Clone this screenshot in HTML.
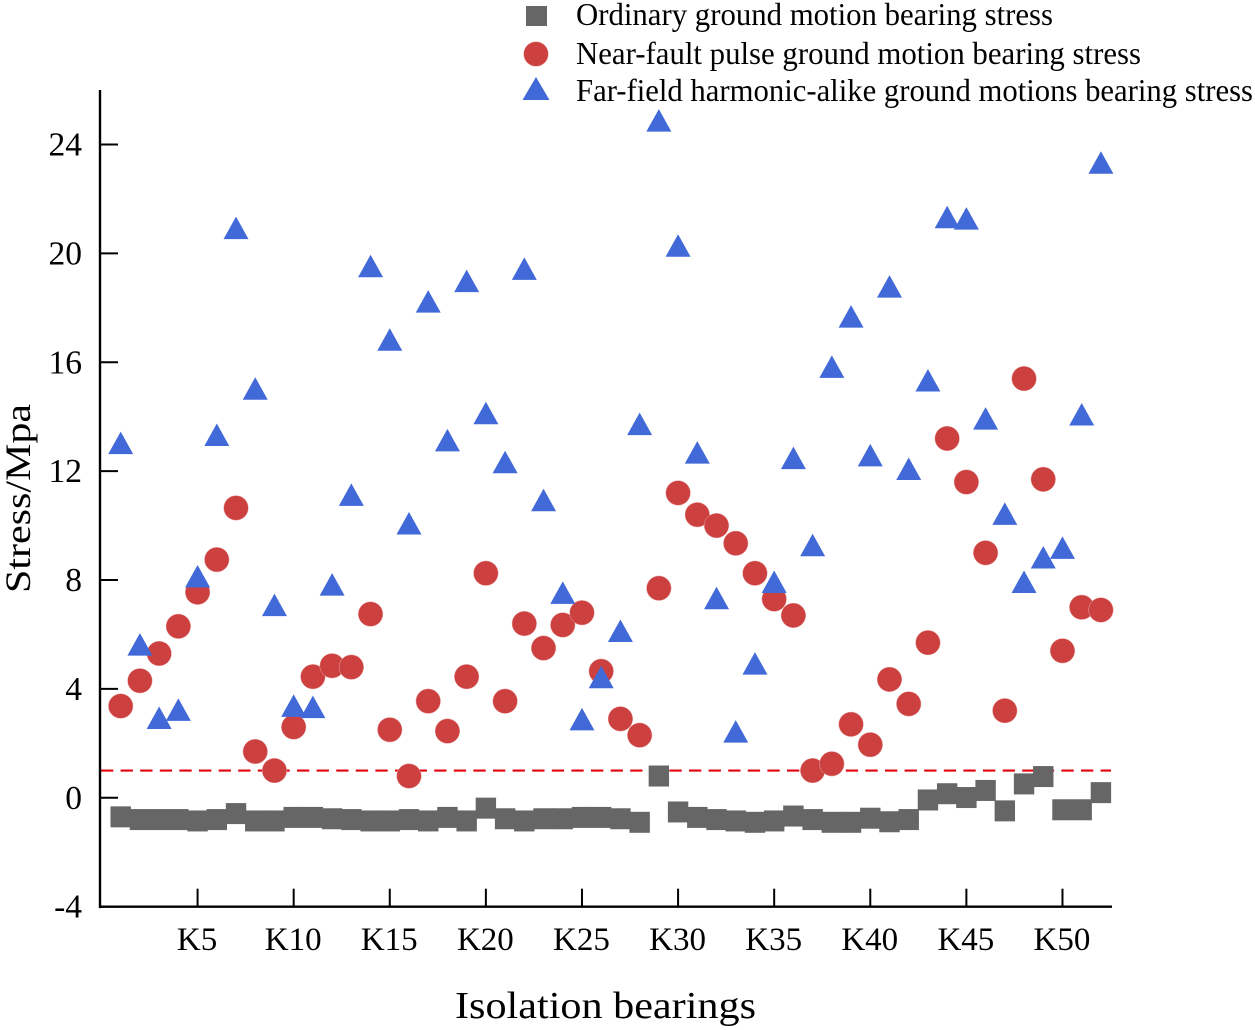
<!DOCTYPE html>
<html lang="en">
<head>
<meta charset="utf-8">
<title>Isolation bearing stress</title>
<style>
html,body{margin:0;padding:0;background:#fff;}
svg{display:block;font-family:"Liberation Serif",serif;}
</style>
</head>
<body>
<svg id="chart" xmlns="http://www.w3.org/2000/svg" width="1255" height="1030" viewBox="0 0 1255 1030">
<rect width="1255" height="1030" fill="#fff"/>
<g id="marks"></g>
<g id="axes"></g>
<g id="legend">
  <rect x="526" y="6" width="21" height="20" fill="#666"/>
  <text x="576" y="25" font-size="32" textLength="477" lengthAdjust="spacingAndGlyphs">Ordinary ground motion bearing stress</text>
  <circle cx="536" cy="54" r="12.3" fill="#cd4040" stroke="#e8a5a5" stroke-width="0.5"/>
  <text x="576" y="64" font-size="32" textLength="565" lengthAdjust="spacingAndGlyphs">Near-fault pulse ground motion bearing stress</text>
  <polygon points="536,77 549.5,100 522.5,100" fill="#4169d8"/>
  <text x="576" y="101" font-size="32" textLength="677" lengthAdjust="spacingAndGlyphs">Far-field harmonic-alike ground motions bearing stress</text>
</g>
</svg>
<script>
const yTicks = [-4, 0, 4, 8, 12, 16, 20, 24];
const xTickBearings = [5, 10, 15, 20, 25, 30, 35, 40, 45, 50];
const limitStress = 1;
const ordinary = [-0.7,-0.8,-0.8,-0.8,-0.85,-0.8,-0.58,-0.85,-0.85,-0.72,-0.72,-0.77,-0.8,-0.85,-0.85,-0.8,-0.85,-0.72,-0.85,-0.38,-0.77,-0.85,-0.77,-0.77,-0.72,-0.72,-0.77,-0.9,0.8,-0.52,-0.72,-0.8,-0.85,-0.9,-0.85,-0.67,-0.8,-0.9,-0.9,-0.75,-0.88,-0.8,-0.08,0.15,0.01,0.27,-0.48,0.51,0.78,-0.44,-0.44,0.19];
const nearFault = [3.37,4.3,5.3,6.3,7.55,8.75,10.65,1.7,1.0,2.6,4.45,4.85,4.8,6.75,2.5,0.8,3.55,2.45,4.45,8.25,3.55,6.4,5.5,6.35,6.8,4.65,2.9,2.3,7.7,11.2,10.4,10.0,9.35,8.25,7.3,6.7,1.0,1.25,2.7,1.95,4.35,3.45,5.7,13.2,11.6,9.0,3.2,15.4,11.7,5.4,7.0,6.9];
const farField = [13.0,5.6,2.9,3.2,8.1,13.3,20.9,15.0,7.05,3.35,3.3,7.8,11.1,19.5,16.8,10.05,18.2,13.1,18.95,14.1,12.3,19.4,10.9,7.5,2.85,4.4,6.1,13.7,24.85,20.25,12.65,7.3,2.4,4.9,7.9,12.45,9.25,15.8,17.65,12.55,18.75,12.05,15.3,21.3,21.25,13.9,10.4,7.9,8.8,9.15,14.05,23.3];

const NS = 'http://www.w3.org/2000/svg';
const xScale = k => 120.7 + (k - 1) * 19.22;
const yScale = v => 797.8 - v * 27.22;
const axisLeft = 100, axisRight = 1112, axisTop = 90, axisBottom = yScale(-4);

function make(parent, tag, attrs, text) {
  const el = document.createElementNS(NS, tag);
  for (const key in attrs) el.setAttribute(key, attrs[key]);
  if (text !== undefined) el.textContent = text;
  parent.appendChild(el);
  return el;
}
const marks = document.getElementById('marks');
const axes = document.getElementById('axes');

const limitLine = make(marks, 'line', {x1: axisLeft + 1, x2: axisRight - 1, y1: yScale(limitStress), y2: yScale(limitStress), stroke: '#e3000f', 'stroke-width': 2.2, 'stroke-dasharray': '12.3 7.3'});



ordinary.forEach((v, i) => {
  const cx = xScale(i + 1), cy = yScale(v);
  const el = make(marks, 'rect', {x: cx - 10.2, y: cy - 10.5, width: 20.4, height: 21, fill: '#666'});
  
  
});
nearFault.forEach((v, i) => {
  const el = make(marks, 'circle', {cx: xScale(i + 1), cy: yScale(v), r: 12.3, fill: '#cd4040', stroke: '#e8a5a5', 'stroke-width': 0.5});
  
  
});
farField.forEach((v, i) => {
  const cx = xScale(i + 1), cy = yScale(v);
  const el = make(marks, 'polygon', {points: `${cx},${cy - 12.3} ${cx + 12.5},${cy + 10.2} ${cx - 12.5},${cy + 10.2}`, fill: '#4169d8'});
  
  
});

const yAxis = make(axes, 'line', {x1: axisLeft, x2: axisLeft, y1: axisTop, y2: axisBottom + 1.5, stroke: '#000', 'stroke-width': 2.4});


const xAxis = make(axes, 'line', {x1: axisLeft - 1, x2: axisRight, y1: axisBottom, y2: axisBottom, stroke: '#000', 'stroke-width': 2.4});



yTicks.forEach(v => {
  const y = yScale(v);
  const tick = make(axes, 'line', {x1: axisLeft, x2: axisLeft + 18, y1: y, y2: y, stroke: '#000', 'stroke-width': 2});
  
  
  const label = make(axes, 'text', {x: 82, y: y + 11, 'text-anchor': 'end', 'font-size': 33.5}, String(v));
  
  
});
xTickBearings.forEach(k => {
  const x = xScale(k);
  const tick = make(axes, 'line', {x1: x, x2: x, y1: axisBottom, y2: axisBottom - 18, stroke: '#000', 'stroke-width': 2});
  
  
  const label = make(axes, 'text', {x: x - 0.5, y: 950, 'text-anchor': 'middle', 'font-size': 33}, 'K' + k);
  
  
});

const xTitle = make(axes, 'text', {x: 455, y: 1018, 'font-size': 38, textLength: 301, lengthAdjust: 'spacingAndGlyphs'}, 'Isolation bearings');


const yTitle = make(axes, 'text', {transform: 'translate(30,593) rotate(-90)', 'font-size': 36, textLength: 189, lengthAdjust: 'spacingAndGlyphs'}, 'Stress/Mpa');


</script>
</body>
</html>
